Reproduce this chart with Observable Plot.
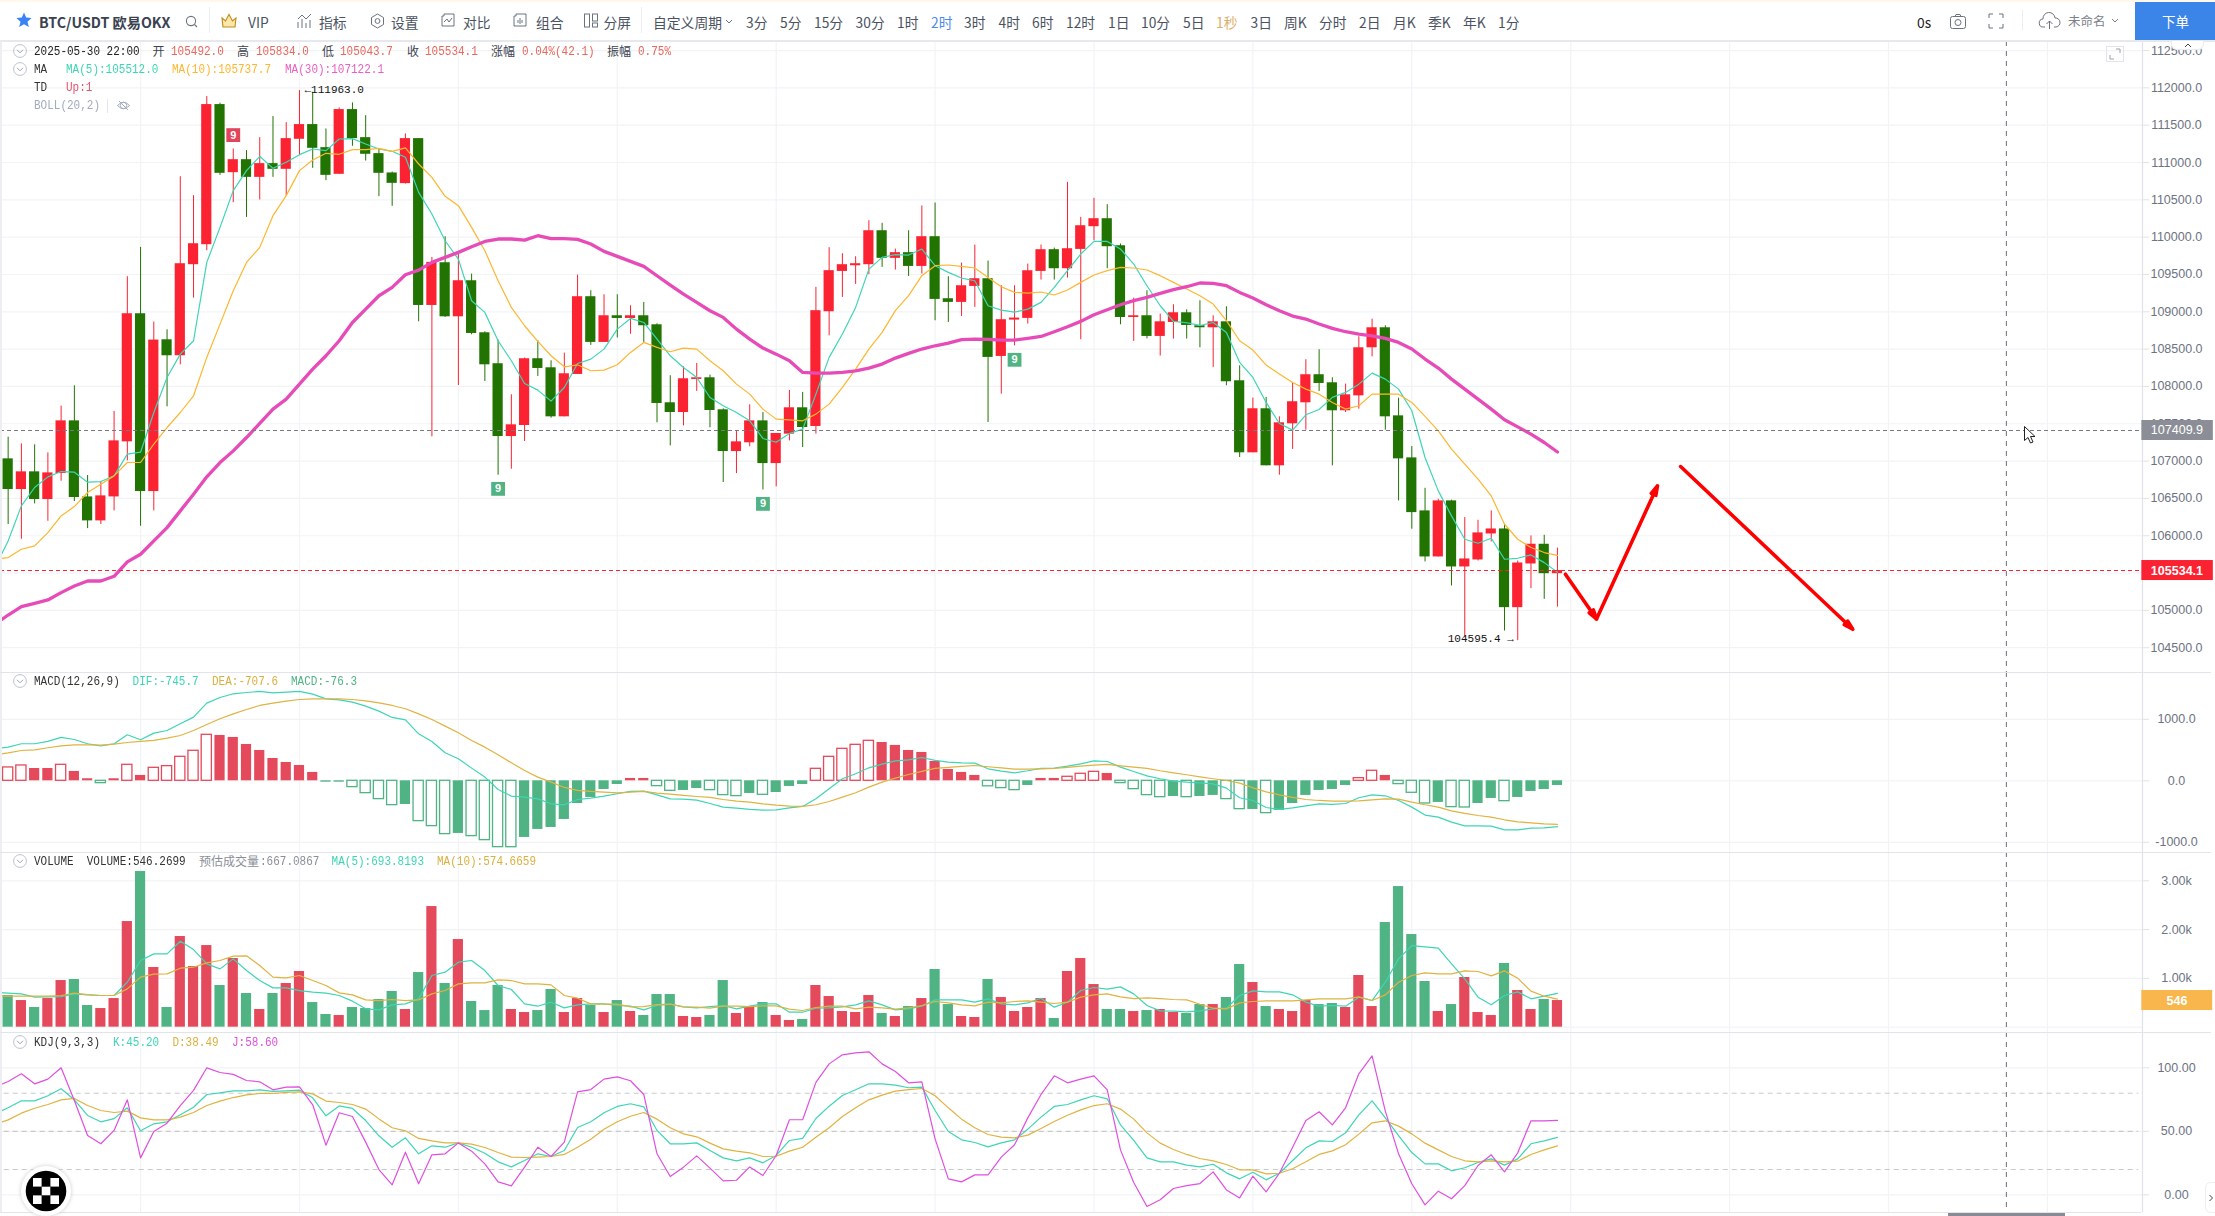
<!DOCTYPE html>
<html><head><meta charset="utf-8">
<script src="https://cdn.jsdelivr.net/npm/d3@7"></script>
<script src="https://cdn.jsdelivr.net/npm/@observablehq/plot@0.6"></script>
<style>
html,body{margin:0;padding:0;background:#fff;}
#page{position:relative;width:2215px;height:1216px;overflow:hidden;background:#fff;font-family:"Noto Sans CJK SC","Noto Sans",sans-serif;}
.p{position:absolute;left:0;}
.p svg{display:block;}
.t{position:absolute;white-space:nowrap;line-height:18px;height:18px;}
.bar{font-size:13.8px;color:#4b5261;}
.mono{font-family:"Liberation Mono",monospace;font-size:11px;transform:scaleY(1.22);transform-origin:left center;}
.cjk{font-size:12px;color:#3c4350;}
.l{position:absolute;}
svg.ic{position:absolute;overflow:visible;fill:none;}
</style></head><body><div id="page"></div>
<script>
const opens=[107030,106619,106856,106485,106833,107539,106520,106199,106520,107258,108974,106592,108625,108411,109631,109899,111776,110864,111038,110801,110985,110909,111311,111508,111199,110842,111709,111333,111119,110860,110717,111320,109085,109657,108933,109416,108719,108304,107329,107477,108371,108250,107593,108161,109202,108590,108947,108911,108947,108826,107781,107651,108094,108116,107687,107128,107245,107539,106967,107361,107714,107464,109001,109541,109617,109631,110086,109716,109792,109608,110006,109175,109126,109340,109443,108402,108889,108912,109541,109832,109577,109836,110140,110247,109885,108924,108947,108670,108857,108987,108813,108786,108866,108076,107111,107701,106937,107500,107781,108157,108049,107674,107874,108518,108786,107606,107043,106333,105716,106467,105582,105676,106024,106091,105037,105622,105886,105492];
const highs=[107320,107231,107218,107110,107736,108009,106807,106726,107665,109470,109863,108862,108759,110810,110556,111883,111794,111181,111159,111333,111615,111534,111963,111941,111449,111731,111798,111628,111181,110873,111382,111320,109729,110006,109773,109505,108732,108620,107888,108380,108612,108344,108447,109492,109282,109228,109228,109081,109126,108840,108143,108263,108308,108152,107700,107396,107754,107651,107370,107946,107920,109327,109859,109778,109738,110220,110185,109840,110086,110417,110457,109470,109653,109894,109680,109350,109349,109639,109894,109854,110734,110265,110520,110435,109908,109183,109282,108969,109094,109027,109148,108947,109067,108277,107844,107853,107593,108054,108358,108492,108116,108031,108665,108902,108813,107843,107195,106636,106489,106476,106243,106207,106333,106154,105662,105997,106006,105834];
const lows=[106150,105953,106427,106194,106731,106458,106096,106150,106333,107003,106127,106333,107727,108290,109184,109818,110828,110462,110265,110498,110801,110551,111092,110922,110757,110840,111217,111020,110542,110413,110712,108866,107325,108924,108013,108692,108067,106811,106891,107262,108134,107575,107593,108161,108550,108590,108650,108700,108590,107513,107204,107472,107933,107446,106713,106833,107191,106614,106655,107271,107182,107361,108679,109193,109367,109497,109595,109559,109474,109505,108880,108857,108938,109059,107517,107897,108545,108836,109425,109425,109452,108626,109952,109577,108826,108603,108638,108407,108635,108635,108518,108255,108009,107048,107111,106937,106811,107156,107415,107933,106937,107651,107696,108397,107414,106467,106087,105649,105716,105327,104640,105662,105918,104724,104595,105291,105148,105044];
const closes=[106619,106856,106485,106842,107539,106512,106199,106534,107271,108974,106592,108621,108411,109644,109912,111776,110855,111038,110801,110985,110909,111320,111508,111190,110828,111709,111320,111110,110855,110721,111320,109085,109662,108933,109416,108710,108290,107329,107486,108371,108241,107593,108170,109202,108590,108947,108911,108947,108813,107772,107651,108103,108116,107678,107128,107258,107539,106967,107370,107714,107450,109015,109551,109631,109644,110086,109716,109792,109608,110006,109166,109126,109349,109443,108389,108894,108916,109550,109832,109577,109845,110153,110247,109872,108924,108947,108670,108866,108987,108817,108786,108866,108063,107111,107701,106937,107513,107795,108157,108040,107674,107888,108518,108786,107593,107030,106310,105716,106467,105582,105689,106038,106091,105037,105635,105886,105492,105534];
// every indicator series starts one candle left of the visible window
const ma5=[105573,105931,106400,106646,106789,106860,106851,106717,106726,106802,107093,107119,107651,108120,108433,108612,109662,110131,110623,110891,111083,110922,111003,111105,111181,111159,111315,111320,111248,111181,111150,111070,110600,110310,109952,109706,109148,108992,108612,108344,108040,107951,107803,107986,108308,108366,108500,108768,108911,108857,108634,108411,108254,108120,107852,107741,107651,107539,107303,107253,107370,107428,107897,108389,108702,109059,109572,109729,109765,109760,109841,109617,109528,109452,109416,109081,109023,108996,109036,109126,109327,109550,109774,109943,109943,109841,109640,109349,109081,108871,108853,108817,108857,108723,108322,108121,107786,107504,107415,107620,107692,107853,107920,108031,108179,108098,107964,107674,107048,106601,106266,105953,105900,105967,105685,105698,105743,105640,105512];
const ma10=[105685,105707,105819,105864,106042,106266,106391,106579,106690,106802,106981,106981,107227,107450,107651,107875,108389,108835,109282,109662,109863,110288,110556,110891,111034,111123,111110,111172,111172,111190,111150,111195,110980,110801,110547,110422,110131,109818,109416,109059,108813,108603,108411,108263,108290,108210,108219,108290,108456,108590,108523,108465,108514,108500,108344,108210,108031,107897,107696,107562,107553,107540,107629,107763,107987,108233,108501,108724,109015,109216,109484,109618,109627,109609,109587,109461,109336,109260,109251,109265,109225,109292,109394,109493,109551,109596,109587,109560,109484,109394,109305,109216,109104,108881,108612,108487,108286,108166,108054,107964,107897,107786,107696,107741,107897,107897,107897,107786,107598,107406,107160,106959,106758,106534,106154,105953,105842,105775,105738];
const ma30=[104813,104938,105050,105095,105140,105238,105327,105394,105394,105457,105649,105752,105931,106109,106333,106556,106789,106981,107137,107316,107504,107696,107830,108031,108232,108411,108612,108857,109036,109215,109327,109496,109559,109662,109729,109796,109872,109943,109975,109975,109961,110019,109979,109979,109970,109908,109809,109742,109675,109608,109483,109358,109237,109126,109014,108925,108768,108634,108514,108433,108344,108188,108179,108179,108188,108210,108246,108300,108380,108443,108501,108545,108581,108626,108635,108630,108621,108621,108644,108670,108733,108800,108872,108961,109028,109095,109149,109193,109247,109296,109336,109386,109381,109350,109260,109184,109095,109015,108943,108903,108836,108778,108733,108702,108679,108644,108590,108501,108367,108246,108098,107964,107830,107696,107553,107459,107361,107249,107122];
const hist=[217,249,200,200,260,152,33,-38,33,260,87,211,238,390,488,748,737,705,591,493,363,298,249,136,-22,-22,-103,-201,-298,-396,-385,-656,-737,-867,-856,-900,-965,-1079,-1080,-921,-791,-759,-629,-369,-271,-141,-60,38,38,-87,-163,-157,-125,-152,-233,-249,-206,-228,-190,-92,-60,195,390,520,585,650,623,575,493,461,314,184,136,87,-90,-119,-152,-76,38,38,65,114,146,119,-38,-136,-233,-266,-255,-266,-255,-238,-298,-461,-466,-526,-482,-369,-238,-157,-141,-76,43,163,87,-54,-195,-369,-352,-428,-434,-369,-287,-331,-271,-173,-141,-76];
const hollowIdx=[0,1,4,7,9,11,12,13,14,15,26,27,28,29,31,32,33,35,36,37,38,49,50,53,54,55,57,61,62,63,64,65,74,75,76,80,81,82,84,85,86,87,89,92,93,95,102,103,105,106,107,109,110,113];
const dif=[520,547,602,602,640,705,672,602,569,602,748,667,775,818,927,1035,1263,1355,1415,1436,1453,1431,1442,1453,1409,1333,1317,1279,1214,1133,1030,992,764,640,455,358,206,60,-141,-249,-266,-293,-374,-390,-304,-282,-249,-211,-173,-168,-228,-293,-298,-314,-369,-428,-444,-466,-477,-472,-439,-417,-293,-130,33,114,211,271,325,341,379,331,304,293,287,195,157,130,163,201,206,238,276,325,314,222,152,81,33,-5,-22,-33,-49,-119,-276,-320,-434,-466,-439,-407,-374,-385,-369,-276,-228,-244,-320,-428,-558,-591,-672,-732,-732,-737,-797,-797,-770,-764,-746];
const dea=[423,455,493,504,537,569,585,585,580,596,623,640,656,694,737,818,916,1008,1089,1160,1225,1263,1295,1322,1333,1333,1333,1322,1301,1268,1225,1171,1089,997,889,780,656,547,423,293,168,60,-22,-108,-157,-173,-184,-195,-184,-173,-201,-217,-238,-255,-271,-304,-331,-347,-374,-396,-412,-417,-390,-336,-266,-195,-103,-22,43,103,152,201,217,233,249,228,211,190,190,195,201,217,238,255,266,244,222,201,163,130,98,65,33,5,-38,-114,-179,-228,-271,-304,-320,-331,-331,-325,-309,-293,-298,-347,-390,-428,-488,-531,-564,-591,-634,-667,-683,-699,-708];
const vol=[649,546,403,587,956,977,444,382,587,2165,3190,1223,403,1858,1243,1673,854,1407,690,362,690,895,1141,505,260,239,403,382,567,731,362,1120,2472,895,1796,526,341,854,362,301,341,772,301,587,444,301,546,321,239,669,669,219,198,239,956,280,423,505,239,137,157,854,628,321,301,649,280,219,423,587,1182,464,219,198,977,608,321,403,587,178,1141,1407,874,362,362,321,341,362,301,280,464,464,608,1284,915,423,362,321,546,464,485,403,1059,423,2145,2882,1899,936,321,464,1018,301,239,1305,751,362,567,546];
const volMa5=[717,697,683,615,622,628,683,663,649,649,922,1366,1503,1503,1762,1591,1298,1195,1400,1161,956,806,806,751,717,697,649,533,376,355,458,478,581,1059,1127,1332,1366,1161,854,772,478,430,512,396,458,478,478,444,430,355,444,471,417,396,423,444,376,430,478,478,307,307,389,396,417,458,540,458,355,376,430,560,560,560,512,581,478,458,499,594,410,512,751,813,779,826,683,444,335,328,314,335,376,389,649,744,724,724,663,512,430,444,430,615,546,922,1400,1673,1646,1619,1298,990,615,458,649,724,581,635,694];
const volMa10=[635,635,635,635,635,649,697,669,649,649,785,1025,1086,1093,1209,1229,1318,1366,1455,1462,1264,1025,1011,1059,956,854,703,663,560,546,567,546,560,683,751,888,908,908,970,956,888,888,867,649,594,478,471,471,417,423,464,471,417,410,389,430,430,423,437,437,369,342,403,430,430,376,410,396,369,396,444,526,499,458,437,512,499,526,540,512,485,512,615,663,683,622,587,601,587,567,560,471,389,376,499,526,540,540,540,560,581,581,581,622,546,663,922,1059,1113,1093,1093,1154,1141,1052,1154,1004,738,635,575];
const kdjK=[63.8,68.5,74,74,78,83.5,74.8,62.5,57.5,60,68.5,50.4,55.9,57.5,63,69,79,80.3,81.9,81.9,82.7,81.4,81.9,82.4,76.4,62.2,70,68,58.5,46.5,37.5,44.9,32.3,38.6,37.5,40.9,37.5,32.8,26,22,27,32.3,30.2,34.9,53,57.5,64.6,69.6,71.7,69.3,50.7,40.2,40.2,40.9,34.9,29.1,26.8,29.1,25.2,31,42.8,44.4,60.1,69.8,78.2,82.7,87.4,87.4,86.4,84.3,84.8,66.4,49.9,43.3,41.2,37.8,40.9,43.3,51.7,61.2,69.6,71.1,74.8,78,75.6,55.1,42.8,29.1,26,26,23.4,22,24.1,17.3,12.6,17.8,11.8,17,27,37,42.5,42,48.8,63,74,60.6,46.7,33.3,24.4,24.4,18.9,21.3,25.5,28.3,23.4,28.3,40.2,42.5,45.2];
const kdjD=[55.4,59,64.3,68.2,71.1,74.8,75.9,70.3,66.4,64.8,65.9,60.6,59,59,61.2,64.8,70.3,73.8,76.6,78.7,79.8,79.8,80.6,81.1,79.5,73.8,72.7,71.1,67.5,59.8,52.8,50.4,44.4,42.5,40.9,40.9,39.9,37.3,33.3,29.7,29.4,29.7,30.2,31.8,37.5,43.8,51.7,57.5,61.9,64.8,59.6,52.8,48,45.7,40.7,36.2,34.4,33.1,30.2,30.4,34.4,37.5,45.4,52.8,61.7,68.5,74.8,78.5,81.6,82.9,83.7,78,68.5,59.6,52.8,47.5,45.4,44.9,47,52.2,57.7,62.7,66.9,70.3,71.7,67.5,59.6,48.8,40.7,35.7,31.8,28.6,26.8,23.9,19.7,19.7,16.5,17,20.5,26,31.8,34.6,39.4,47.8,56.7,58.3,54.1,48,40.7,35.4,30.2,26.8,26,26.8,26,26.5,31.8,35.4,38.49];
const kdjJ=[84.8,89.2,95.3,87.4,91.1,100,74.3,46.7,40.2,50.7,74.8,29.1,49.9,56.4,70.3,82.2,100,96.3,94.8,90,89,82.7,84.8,85,70.9,39.1,64.6,61.7,41.5,19.9,7.9,33.6,8.7,31.5,32.3,40.9,34.4,24.4,10.2,7.1,21.8,37.5,30.2,41.5,81.1,82.9,91.1,92.9,89.8,79,32.3,14.4,21.8,30.7,21,11,11.5,22,15.2,31,59.1,59.1,88.5,103.1,110.2,111.8,112.6,103.1,97.1,88.2,89,44.1,12.6,10.2,15.7,15.7,29.7,39.4,60.6,79,93.7,88.2,91.1,93.7,82.7,35.4,9.7,-9.2,-3.9,5,7.3,8.9,18.1,3.9,-2.4,14.7,2.4,17,37.5,58.5,65.4,55.1,68.5,95.3,109.4,65.9,32.3,8.7,-7.9,2.9,-3.1,7.3,23.1,31.5,18.1,33.1,58.3,58.3,58.6];
const priceTicks=[104500,105000,105500,106000,106500,107000,107500,108000,108500,109000,109500,110000,110500,111000,111500,112000,112500];
const macdTicks=[-1000,0,1000];
const volTicks=[0,1000,2000,3000];
const volLabelTicks=[1000,2000,3000];
const kdjTicks=[0,50,100];
const kdjLevels=[20,50,80];
const gridIdx=[10,22,34,46,58,70,82,94,106,118,130,142,154];
const crossIdx=150.9, crossPrice=107409.9, lastPrice=105534.1, lastVol=546.27;
const tdIdx=[17,37,57,76], tdPrice=[111367,106628,106427,108357], tdUp=[true,false,false,false];
const arrowsX1=[117.6,119.95,126.3], arrowsY1=[105484,104885,106927];
const arrowsX2=[119.95,124.55,139.3], arrowsY2=[104885,106668,104747];

const UP="#fb2232",DOWN="#217402",UPV="#e44a5c",DOWNV="#50b384";
const C5="#3ed5b5",C10="#fdb62f",C30="#e64bb8",CD="#e0b341",CJ="#df4fe0";
const GRID="#f1f3f5",AXL="#dfe2e8",TXT="#6d7382";
const idx=d3.range(opens.length);
const xD=[-0.5777,161.18], xE=161.18;
const font={fontFamily:'"Liberation Sans",sans-serif',fontSize:"12.5px",background:"transparent",overflow:"visible"};
const page=document.getElementById("page");

function base(ticks,labelTicks,fmt){
  return [
    Plot.ruleX(gridIdx,{stroke:GRID,strokeWidth:1.2}),
    Plot.ruleY(ticks,{stroke:GRID,strokeWidth:1.2}),
    Plot.ruleX([xE],{stroke:AXL,strokeWidth:1.2}),
    Plot.axisY(labelTicks,{anchor:"right",tickSize:6,tickPadding:28,textAnchor:"middle",tickFormat:fmt,stroke:AXL,color:TXT,fill:TXT,label:null})
  ];
}
function series(arr,stroke,w){return Plot.line(arr,{x:(d,i)=>i-1,y:d=>d,stroke,strokeWidth:w,clip:true});}
function cross(){return Plot.ruleX([crossIdx],{stroke:"#6b6f78",strokeWidth:1,strokeDasharray:"5,5"});}
function panel(top,height,domain,marks){
  const svg=Plot.plot({width:2215,height,marginLeft:0,marginRight:73,marginTop:0,marginBottom:0,
    x:{domain:xD,axis:null},y:{domain,axis:null},style:font,marks});
  const d=document.createElement("div");d.className="p";d.style.top=top+"px";d.appendChild(svg);page.appendChild(d);
}
const hw=0.385;
const col=i=>closes[i]>=opens[i]?UP:DOWN, colV=i=>closes[i]>=opens[i]?UPV:DOWNV;

// MAIN
panel(41,631,[104168,112621],[
  ...base(priceTicks,priceTicks,d=>d.toFixed(1)),
  Plot.ruleX(idx,{x:i=>i,y1:i=>lows[i],y2:i=>highs[i],stroke:col,strokeWidth:1}),
  Plot.rect(idx,{x1:i=>i-hw,x2:i=>i+hw,y1:i=>opens[i],y2:i=>closes[i],fill:col}),
  series(ma5,C5,1.2),
  series(ma10,C10,1.2),
  series(ma30,C30,3.3),
  Plot.ruleY([crossPrice],{stroke:"#77797f",strokeWidth:1,strokeDasharray:"4,3"}),
  Plot.ruleY([lastPrice],{stroke:"#f5222d",strokeWidth:1,strokeDasharray:"4,3"}),
  cross(),
  Plot.rect([crossPrice],{x1:xE-0.05,x2:xE+5.35,y1:d=>d-134,y2:d=>d+134,fill:"#8b8e96"}),
  Plot.text([crossPrice],{x:xE+2.6,y:d=>d,text:d=>d.toFixed(1),fill:"#fff",fontSize:12.5}),
  Plot.rect([lastPrice],{x1:xE-0.05,x2:xE+5.35,y1:d=>d-134,y2:d=>d+134,fill:"#fb2232"}),
  Plot.text([lastPrice],{x:xE+2.6,y:d=>d,text:d=>d.toFixed(1),fill:"#fff",fontSize:12.5,fontWeight:"bold"}),
  Plot.text([22],{x:d=>d,y:()=>111963,text:()=>"←111963.0",textAnchor:"start",dx:5,dy:-1,fill:"#111",fontFamily:'"Liberation Mono",monospace',fontSize:11}),
  Plot.text([114],{x:d=>d,y:()=>104595,text:()=>"104595.4 →",textAnchor:"end",dx:-4,dy:-2,fill:"#111",fontFamily:'"Liberation Mono",monospace',fontSize:11}),
  Plot.dot(tdIdx,{x:d=>d,y:(d,i)=>tdPrice[i],symbol:"square",r:7.8,fill:(d,i)=>tdUp[i]?"#e0455a":"#50b384"}),
  Plot.text(tdIdx,{x:d=>d,y:(d,i)=>tdPrice[i],text:()=>"9",fill:"#fff",fontSize:11,fontWeight:"bold",fontFamily:'"Liberation Sans",sans-serif'}),
  Plot.arrow(arrowsX1,{x1:d=>d,y1:(d,i)=>arrowsY1[i],x2:(d,i)=>arrowsX2[i],y2:(d,i)=>arrowsY2[i],stroke:"#ff0000",strokeWidth:3.6,headLength:4,headAngle:30,bend:0})
]);
// MACD
panel(672,180,[-1166,1761],[
  ...base(macdTicks,macdTicks,d=>d.toFixed(1)),
  Plot.rect(idx,{x1:i=>i-hw,x2:i=>i+hw,y1:()=>0,y2:i=>hist[i],
    fill:i=>hollowIdx.includes(i)?"#fff":(hist[i]>=0?UPV:DOWNV),fillOpacity:i=>hollowIdx.includes(i)?0.75:1,
    stroke:i=>hist[i]>=0?UPV:DOWNV,strokeWidth:i=>hollowIdx.includes(i)?1.3:0,inset:0}),
  series(dif,C5,1.2),
  series(dea,CD,1.2),
  cross()
]);
// VOLUME
panel(852,180,[-109,3580],[
  ...base(volTicks,volLabelTicks,d=>(d/1000).toFixed(2)+"k"),
  Plot.rect(idx,{x1:i=>i-hw,x2:i=>i+hw,y1:()=>0,y2:i=>vol[i],fill:colV}),
  series(volMa5,C5,1.2),
  series(volMa10,CD,1.2),
  cross(),
  Plot.rect([lastVol],{x1:xE-0.05,x2:xE+5.3,y1:d=>d-205,y2:d=>d+205,fill:"#f8b64c"}),
  Plot.text([lastVol],{x:xE+2.6,y:d=>d,text:d=>d3.format(".0f")(d),fill:"#fff",fontSize:12.5,fontWeight:"bold"})
]);
// KDJ
panel(1032,180,[-13.9,127.8],[
  ...base(kdjTicks,kdjTicks,d=>d.toFixed(2)),
  Plot.ruleY(kdjLevels,{x1:-0.3,x2:160.9,stroke:"#c8c9cb",strokeWidth:1.1,strokeDasharray:"5,4"}),
  series(kdjK,C5,1.2),
  series(kdjD,CD,1.2),
  series(kdjJ,CJ,1.2),
  cross()
]);

// chrome
function box(x,y,w,h,bg,extra){const e=document.createElement("div");e.className="l";e.style.cssText=`left:${x}px;top:${y}px;width:${w}px;height:${h}px;background:${bg};${extra||""}`;page.appendChild(e);return e;}
function txt(s,x,y,color,cls,extra){const e=document.createElement("div");e.className="t "+(cls||"");e.textContent=s;e.style.left=x+"px";e.style.top=(y-9)+"px";if(color)e.style.color=color;if(extra)e.style.cssText+=extra;page.appendChild(e);return e;}
function ic(x,y,w,h,inner){const n="http://www.w3.org/2000/svg";const s=document.createElementNS(n,"svg");s.setAttribute("class","ic");s.setAttribute("width",w);s.setAttribute("height",h);s.style.left=x+"px";s.style.top=y+"px";s.innerHTML=inner;page.appendChild(s);return s;}

box(0,0,2215,2,"#fff7ea");
box(0,2,2215,38,"#fff");
box(0,40,2215,2,"#e6e8ec");
box(0,41,1.5,1171,"#eceef1");
[671.5,851.5,1031.5].forEach(y=>box(0,y,2211,1.4,"#e2e4e9"));
box(0,1211.5,2141,1.4,"#e2e4e9");
box(1948,1213,117,3,"#888b93");
// toolbar
[[208.5,7,26],[641,7,26],[2022,10,20]].forEach(([x,y,h])=>box(x,y,1,h,"#eceef1"));
ic(16,12,16,16,'<path d="M8 0.5 L10.2 5.6 L15.6 6.1 L11.5 9.7 L12.8 15 L8 12.2 L3.2 15 L4.5 9.7 L0.4 6.1 L5.8 5.6 Z" fill="#3b82f6"/>');
txt("BTC/USDT 欧易OKX",39,22,"#3a4250","","font-size:14.2px;font-weight:700;");
ic(185,15,14,14,'<circle cx="6" cy="6" r="4.6" stroke="#6b7280" stroke-width="1.1"/><path d="M9.5 9.5L12 12" stroke="#6b7280" stroke-width="1.1"/>');
ic(221,13,16,16,'<path d="M1 5L4.5 8L8 1.5L11.5 8L15 5L14 14H2Z" fill="#fde6a8" stroke="#c08a1e" stroke-width="1.1"/>');
[["VIP",248],["指标",319],["设置",391],["对比",463],["组合",536],["分屏",603.5],["自定义周期",653],["3分",746],["5分",780],["15分",814],["30分",855.6],["1时",897],["3时",964],["4时",998.5],["6时",1032],["12时",1066],["1日",1108],["10分",1141],["5日",1183],["3日",1250.5],["周K",1284],["分时",1319],["2日",1359],["月K",1393],["季K",1428],["年K",1463],["1分",1498]].forEach(([s,x])=>txt(s,x,22,null,"bar"));
txt("2时",931,22,"#4c8bf0","bar");
txt("1秒",1216,22,"#dcae6c","bar");
txt("0s",1917,22,"#222","bar");
txt("未命名",2068,21,"#7b808a","","font-size:12.5px;");
const ICO='stroke="#6b7280" stroke-width="1"';
ic(297,13,16,16,`<path d="M1 15V9M5 15V6M9 15V10M13 15V7M1 6L5 2L9 6L14 1" ${ICO}/>`);
ic(370,13,15,16,`<path d="M7.5 1L13.5 4.5V11.5L7.5 15L1.5 11.5V4.5Z" ${ICO}/><circle cx="7.5" cy="8" r="2.4" ${ICO}/>`);
ic(441,13,14,16,`<path d="M3 1H13V13H1V3H3V1" ${ICO}/><path d="M3 9L6 6L8 9L11 5" ${ICO}/>`);
ic(513,13,14,16,`<path d="M3 1H13V13H1V3H3V1" ${ICO}/><path d="M7 5V11M5 7V10M9 7V10" ${ICO}/>`);
ic(584,13,15,16,`<rect x="0.5" y="1" width="5" height="13" ${ICO}/><rect x="8.5" y="1" width="5" height="7" ${ICO}/><rect x="8.5" y="10" width="5" height="4" ${ICO}/>`);
ic(725,19,9,6,'<path d="M1 1L4 4L7 1" stroke="#6b7280"/>');
ic(1950,14,17,15,`<rect x="0.5" y="2.5" width="15" height="12" rx="2" ${ICO}/><circle cx="8" cy="8.5" r="3" ${ICO}/><path d="M5 2.5L6 0.5H10L11 2.5" ${ICO}/>`);
ic(1988,13,16,16,`<path d="M1 5V1H5M11 1H15V5M15 11V15H11M5 15H1V11" ${ICO}/>`);
ic(2039,12,22,18,`<path d="M6 15H4.5A4 4 0 0 1 4 7A6 6 0 0 1 16 6A4.5 4.5 0 0 1 17 15H15M10.5 17V9M7.5 12L10.5 9L13.5 12" ${ICO}/>`);
ic(2111,18,9,6,'<path d="M1 1L4 4L7 1" stroke="#7b808a"/>');
box(2135,2,80,38,"#3b85e8");
txt("下单",2162,21,"#fff","","font-size:13.5px;");
ic(2105.5,46,18,16,'<rect x="0.5" y="0.5" width="17" height="15" stroke="#e1e4ea"/><path d="M10 3H14V7M4 9V13H8" stroke="#9aa1ad"/>');
box(2171,41,33,9,"#fff","border:1px solid #eceef1;border-top:none;border-radius:0 0 6px 6px;box-sizing:border-box;");
ic(2184,43,8,5,'<path d="M1 4L4 1L7 4" stroke="#444"/>');
ic(2205,1182,10,31,'<path d="M10 0.5H6Q0.5 0.5 0.5 6V25Q0.5 30.5 6 30.5H10" fill="#fff" stroke="#eceef1"/><path d="M4.5 13L7.5 16L4.5 19" stroke="#444"/>');
// legends
const chev=(y)=>ic(13,y-7,14,14,'<circle cx="7" cy="7" r="6.4" stroke="#bcc2cf"/><path d="M4 5.8L7 8.8L10 5.8" stroke="#9aa1ad"/>');
[51,69,681,861,1042].forEach(chev);
const RED="#e8685c";
txt("2025-05-30 22:00",34,51,"#222","mono");
[["开",152.5,"105492.0",171],["高",237,"105834.0",256],["低",322,"105043.7",340],["收",407,"105534.1",425],["涨幅",491,"0.04%(42.1)",522],["振幅",607,"0.75%",638]].forEach(([a,x,b,x2])=>{txt(a,x,51,null,"cjk");txt(b,x2,51,RED,"mono");});
txt("MA",34,69,"#333","mono");
txt("MA(5):105512.0",66,69,"#3ed5b5","mono");
txt("MA(10):105737.7",172,69,"#fdb62f","mono");
txt("MA(30):107122.1",285,69,"#ea5fc3","mono");
txt("TD",34,87,"#333","mono");
txt("Up:1",66,87,"#e8556a","mono");
txt("BOLL(20,2)",34,105,"#a3abbb","mono");
box(106.5,99,1,14,"#e4e6eb");
ic(117,99,13,13,'<circle cx="6.5" cy="6.5" r="3.2" stroke="#a3abbb"/><path d="M0.5 6.5Q6.5 0 12.5 6.5Q6.5 13 0.5 6.5M2 2L11 11" stroke="#a3abbb"/>');
txt("MACD(12,26,9)",34,681,"#333","mono");
txt("DIF:-745.7",132.6,681,"#3ed5b5","mono");
txt("DEA:-707.6",212,681,"#dcb040","mono");
txt("MACD:-76.3",291,681,"#50b384","mono");
txt("VOLUME",34,861,"#333","mono");
txt("VOLUME:546.2699",86.7,861,"#333","mono");
txt("预估成交量",199,861,"#8b8f98","cjk","color:#8b8f98;");
txt(":667.0867",260,861,"#8b8f98","mono");
txt("MA(5):693.8193",331.6,861,"#3ed5b5","mono");
txt("MA(10):574.6659",437,861,"#dcb040","mono");
txt("KDJ(9,3,3)",34,1042,"#333","mono");
txt("K:45.20",113,1042,"#3ed5b5","mono");
txt("D:38.49",172.4,1042,"#dcb040","mono");
txt("J:58.60",232,1042,"#df4fe0","mono");
// cursor
ic(2023.5,426,12,18,'<path d="M0.5 0.5V14.5L4 11.5L6.5 17L9 16L6.5 10.5H11Z" fill="#fff" stroke="#222"/>');
// OKX badge
ic(21,1166,50,50,'<circle cx="25" cy="25" r="25" fill="#fff" style="filter:drop-shadow(0 0 2px #ccc)"/><circle cx="25" cy="25" r="20.3" fill="#000"/><g fill="#fff"><rect x="12" y="12" width="8.6" height="8.6"/><rect x="29.4" y="12" width="8.6" height="8.6"/><rect x="20.7" y="20.7" width="8.6" height="8.6"/><rect x="12" y="29.4" width="8.6" height="8.6"/><rect x="29.4" y="29.4" width="8.6" height="8.6"/></g>');
</script></body></html>
